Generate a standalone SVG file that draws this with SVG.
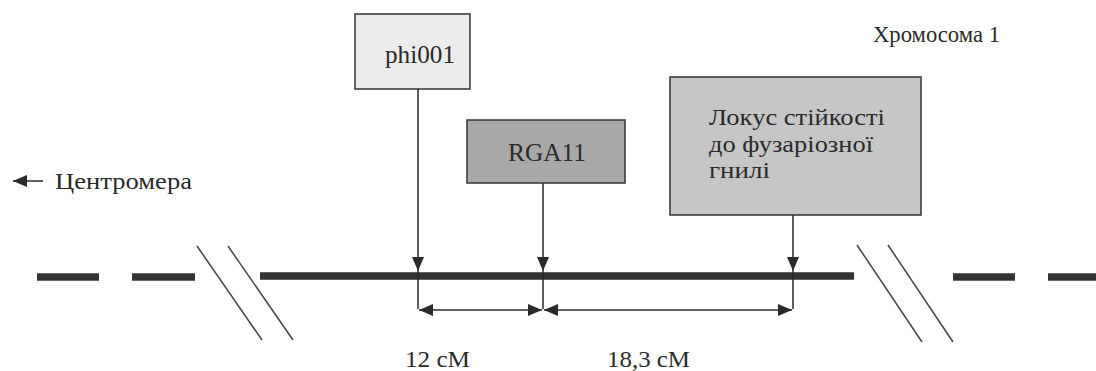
<svg xmlns="http://www.w3.org/2000/svg" width="1096" height="371" viewBox="0 0 1096 371">
<defs>
<marker id="ah" viewBox="0 0 14 12" refX="14" refY="6" markerWidth="14" markerHeight="12" markerUnits="userSpaceOnUse" orient="auto-start-reverse">
<path d="M0,0 L14,6 L0,12 Z" fill="#2a2a2a"/>
</marker>
</defs>
<style>
.box{stroke:#333;stroke-width:1.5}
.thin{stroke:#2a2a2a;stroke-width:1.5;fill:none}
.chrom{stroke:#333;stroke-width:7.5;fill:none}
.slash{stroke:#444;stroke-width:1.5;fill:none}
</style>
<rect width="1096" height="371" fill="#ffffff"/>
<g id="chromosome">
<line class="chrom" x1="37" y1="277" x2="99" y2="277"/>
<line class="chrom" x1="132" y1="277" x2="195" y2="277"/>
<line class="chrom" x1="260" y1="276" x2="854" y2="276"/>
<line class="chrom" x1="953" y1="277" x2="1015" y2="277"/>
<line class="chrom" x1="1048" y1="277" x2="1096" y2="277"/>
<line class="slash" x1="197" y1="246" x2="262" y2="340"/>
<line class="slash" x1="228" y1="246" x2="293" y2="340"/>
<line class="slash" x1="857" y1="245" x2="922" y2="342"/>
<line class="slash" x1="888" y1="245" x2="953" y2="342"/>
</g>
<g font-family="Liberation Serif, DejaVu Serif, serif" fill="#2a2a2a">
<g id="centromere">
<line class="thin" x1="43" y1="181" x2="13" y2="181" marker-end="url(#ah)"/>
<text x="55" y="189" font-size="24" textLength="137" lengthAdjust="spacingAndGlyphs">Центромера</text>
</g>
<g id="chromosome-label">
<text x="873" y="42" font-size="23" textLength="127" lengthAdjust="spacingAndGlyphs">Хромосома 1</text>
</g>
<g id="phi001">
<rect class="box" x="355" y="14" width="115" height="75" fill="#ececec"/>
<text x="385" y="63" font-size="25" textLength="70" lengthAdjust="spacingAndGlyphs">phi001</text>
</g>
<g id="rga11">
<rect class="box" x="467" y="120" width="158" height="63" fill="#a8a8a8"/>
<text x="508" y="161" font-size="25" textLength="78" lengthAdjust="spacingAndGlyphs">RGA11</text>
</g>
<g id="locus">
<rect class="box" x="670" y="77" width="251" height="138" fill="#c6c6c6"/>
<text font-size="24"><tspan x="709" y="125" textLength="176" lengthAdjust="spacingAndGlyphs">Локус стійкості</tspan></text>
<text font-size="24"><tspan x="709" y="152" textLength="164" lengthAdjust="spacingAndGlyphs">до фузаріозної</tspan></text>
<text font-size="24"><tspan x="709" y="178" textLength="61" lengthAdjust="spacingAndGlyphs">гнилі</tspan></text>
</g>
<g id="distances">
<text x="405" y="367" font-size="24" textLength="65" lengthAdjust="spacingAndGlyphs">12 cM</text>
<text x="607" y="367" font-size="24" textLength="83" lengthAdjust="spacingAndGlyphs">18,3 cM</text>
</g>
</g>
<g id="connectors">
<line class="thin" x1="418" y1="89" x2="418" y2="271" marker-end="url(#ah)"/>
<line class="thin" x1="543" y1="183" x2="543" y2="271" marker-end="url(#ah)"/>
<line class="thin" x1="793" y1="215" x2="793" y2="271" marker-end="url(#ah)"/>
<line class="thin" x1="418" y1="271" x2="418" y2="309"/>
<line class="thin" x1="543" y1="271" x2="543" y2="309"/>
<line class="thin" x1="793" y1="271" x2="793" y2="309"/>
<line class="thin" x1="419" y1="310" x2="542" y2="310" marker-start="url(#ah)" marker-end="url(#ah)"/>
<line class="thin" x1="544" y1="310" x2="792" y2="310" marker-start="url(#ah)" marker-end="url(#ah)"/>
</g>
</svg>
